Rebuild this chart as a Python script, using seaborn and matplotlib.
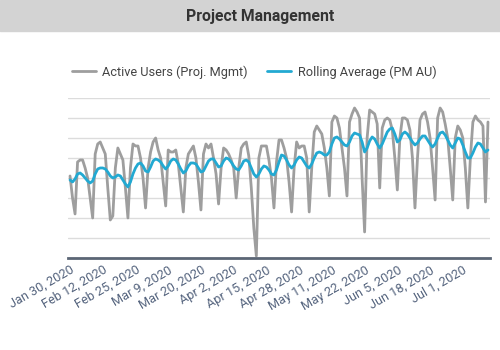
import numpy as np
import pandas as pd
import matplotlib
matplotlib.use("Agg")
import matplotlib.pyplot as plt
import seaborn as sns
from matplotlib.lines import Line2D

tick_labels = ["Jan 30, 2020", "Feb 12, 2020", "Feb 25, 2020", "Mar 9, 2020",
               "Mar 20, 2020", "Apr 2, 2020", "Apr 15, 2020", "Apr 28, 2020",
               "May 11, 2020", "May 22, 2020", "Jun 5, 2020", "Jun 18, 2020",
               "Jul 1, 2020"]
tick_step = 13

active_users = [
    41, 30, 22, 48, 49, 49, 45, 40, 30, 20,
    52, 57, 58, 55, 52, 35, 19, 21, 45, 55,
    52, 49, 35, 20, 45, 57, 56, 56, 50, 40,
    25, 45, 53, 58, 60, 54, 50, 38, 26, 54,
    53, 53, 54, 47, 35, 23, 45, 52, 54, 56,
    50, 38, 24, 52, 57, 55, 57, 50, 42, 27,
    45, 55, 54, 52, 49, 45, 30, 45, 55, 57,
    58, 51, 35, 15, 1, 50, 56, 56, 56, 49,
    40, 25, 48, 59, 59, 55, 50, 38, 23, 45,
    58, 55, 56, 56, 50, 23, 45, 63, 66, 64,
    62, 55, 45, 31, 68, 71, 70, 65, 55, 45,
    31, 68, 72, 75, 73, 70, 40, 13, 60, 74,
    73, 72, 67, 35, 65, 69, 70, 69, 64, 50,
    34, 60, 70, 70, 69, 64, 50, 25, 50, 69,
    72, 73, 68, 60, 45, 29, 70, 75, 73, 67,
    60, 45, 29, 60, 66, 64, 60, 45, 25, 50,
    68, 71, 69, 68, 66, 28, 68,
]

rolling_avg = [
    39, 38, 39.5, 42, 42.5, 41.5, 40, 38.5, 37.5, 38.5,
    42, 44.5, 45, 45, 44.5, 43, 41, 40, 40.5, 41.5,
    41, 39, 37, 35.5, 38, 42, 45, 47, 47.5, 46,
    43.5, 43, 45.5, 48.5, 49.5, 49, 48, 46, 44.5, 46,
    48.5, 49.5, 49, 47, 44.5, 42.5, 43.5, 46, 47.5, 47.5,
    47, 45, 43, 43.5, 46, 48.5, 49.5, 49.5, 47.5, 45.5,
    46, 48.5, 50, 49.5, 48, 46, 44.5, 44, 46, 48.5,
    49, 48, 45, 42, 40.5, 42, 44.5, 46, 45.5, 44,
    42, 41.5, 44, 48, 51.5, 51, 49, 46.5, 45, 46.5,
    49, 50.5, 50, 48, 46, 45, 47, 50, 52.5, 53,
    52.5, 51.5, 51.5, 53, 57, 60, 60.5, 59.5, 58, 56.5,
    56, 58, 61, 62.5, 62, 61.5, 58, 53, 55, 58.5,
    60.5, 59.5, 57, 55, 57, 60, 63, 64.5, 65, 62,
    58, 59, 62, 63, 62, 60, 58, 56.5, 57.5, 59.5,
    61, 61, 59, 57, 55.5, 57, 60, 62.5, 63, 61.5,
    59, 56.5, 55, 57.5, 60, 59.5, 56.5, 53, 50, 50,
    52.5, 55.5, 57.5, 57, 55, 53, 54,
]

series_names = ["Active Users (Proj. Mgmt)", "Rolling Average (PM AU)"]

n = len(active_users)
df = pd.DataFrame({
    "idx": list(range(n)) * 2,
    "value": active_users + rolling_avg,
    "series": [series_names[0]] * n + [series_names[1]] * n,
})

sns.set_theme(style="white")
plt.rcParams['font.family'] = ['Roboto', 'DejaVu Sans']

fig = plt.figure(figsize=(5, 3.5), dpi=100)
ax = fig.add_axes([0.136, 0.263, 0.844, 0.457])

palette = {series_names[0]: "#9e9e9e", series_names[1]: "#22a9d2"}
sns.lineplot(data=df, x="idx", y="value", hue="series", palette=palette,
             linewidth=2.0, ax=ax, legend=False)

ax.set_xlim(-0.8, n - 0.2)
ax.set_ylim(0, 80)
ax.set_yticks(np.arange(0, 81, 10))
ax.set_yticklabels([])
ax.tick_params(axis="y", length=0)
ax.grid(axis="y", color="#dcdcdc", linewidth=1)
ax.grid(axis="x", visible=False)
for s in ["top", "right", "left"]:
    ax.spines[s].set_visible(False)
ax.spines["bottom"].set_color("#5b6675")
ax.spines["bottom"].set_linewidth(2)
ax.set_xlabel("")
ax.set_ylabel("")

ticks = [i * tick_step for i in range(len(tick_labels))]
ax.set_xticks(ticks)
ax.set_xticklabels(tick_labels, rotation=30, ha="right", va="top",
                   rotation_mode="anchor", fontsize=9.2, color="#56657f")
ax.tick_params(axis="x", length=0, pad=4)

# title band
fig.patches.append(plt.Rectangle((0, 1 - 31 / 350), 1, 31 / 350,
                                 transform=fig.transFigure, color="#d3d3d3",
                                 zorder=0))
fig.text(0.52, 1 - 17 / 350, "Project Management", ha="center", va="center",
         fontsize=11.3, fontweight="bold", color="#333333")

handles = [Line2D([], [], color=palette[s], linewidth=2.0) for s in series_names]
fig.legend(handles, series_names, loc="center", bbox_to_anchor=(0.508, 1 - 72 / 350),
           ncol=2, frameon=False, fontsize=9.2, handlelength=1.9,
           columnspacing=1.5, handletextpad=0.5, labelcolor="#444444")

fig.savefig("out.png", dpi=100)
